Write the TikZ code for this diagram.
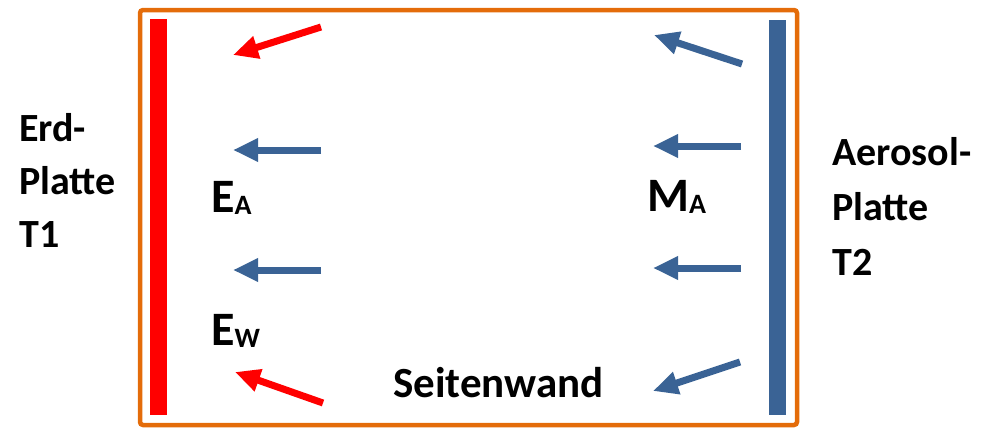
\documentclass[tikz,border=0pt]{standalone}
\usepackage{fontspec}
\setmainfont{Carlito}
\usetikzlibrary{arrows.meta}
\definecolor{frameorange}{HTML}{E46C0A}
\definecolor{plateblue}{HTML}{3A6395}
\definecolor{platered}{HTML}{FF0000}
\tikzset{
  flux/.style={line width=7pt, -{Triangle[width=22pt,length=25pt]}},
  lbl/.style={anchor=base west, inner sep=0pt, font=\bfseries\fontsize{40}{48}\selectfont},
  sym/.style={anchor=base west, inner sep=0pt, font=\bfseries\fontsize{48}{56}\selectfont},
}
\newcommand{\subtxt}[1]{\raisebox{-2pt}{\fontsize{28}{32}\selectfont #1}}
\begin{document}
\begin{tikzpicture}[x=1pt,y=-1pt]
\useasboundingbox (0,0) rectangle (990,429);
% frame
\draw[frameorange, line width=4.5pt, rounded corners=3pt] (140,10) rectangle (797,425);
% plates
\fill[platered] (150,19) rectangle (167,415);
\fill[plateblue] (769,20) rectangle (786,415);
% arrow end points
\coordinate (rt1) at (321,27);  \coordinate (rh1) at (233,55);
\coordinate (lt2) at (321,150); \coordinate (lh2) at (233,150);
\coordinate (lt3) at (321,270); \coordinate (lh3) at (233,270);
\coordinate (rt4) at (323,403); \coordinate (rh4) at (235,372);
\coordinate (bt1) at (742,64);  \coordinate (bh1) at (654,35);
\coordinate (bt2) at (741,146); \coordinate (bh2) at (653,146);
\coordinate (bt3) at (741,268); \coordinate (bh3) at (653,268);
\coordinate (bt4) at (740,362); \coordinate (bh4) at (653,391);
\draw[flux, platered] (rt1) -- (rh1);
\draw[flux, plateblue] (lt2) -- (lh2);
\draw[flux, plateblue] (lt3) -- (lh3);
\draw[flux, platered] (rt4) -- (rh4);
\draw[flux, plateblue] (bt1) -- (bh1);
\draw[flux, plateblue] (bt2) -- (bh2);
\draw[flux, plateblue] (bt3) -- (bh3);
\draw[flux, plateblue] (bt4) -- (bh4);
% labels
\node[lbl] (erd) at (19,141) {Erd-};
\node[lbl] (platte1) at (19,194) {Platte};
\node[lbl] (t1) at (19,247) {T1};
\node[lbl] (aer) at (832,165) {Aerosol-};
\node[lbl] (platte2) at (832,220) {Platte};
\node[lbl] (t2) at (832,275) {T2};
\node[sym] (ea) at (211,212) {E\subtxt{A}};
\node[sym] (ew) at (211,345) {E\subtxt{W}};
\node[sym] (ma) at (647,211) {M\subtxt{A}};
\node[lbl, font=\bfseries\fontsize{43}{51}\selectfont] (sw) at (393,397) {Seitenwand};
\end{tikzpicture}
\end{document}
